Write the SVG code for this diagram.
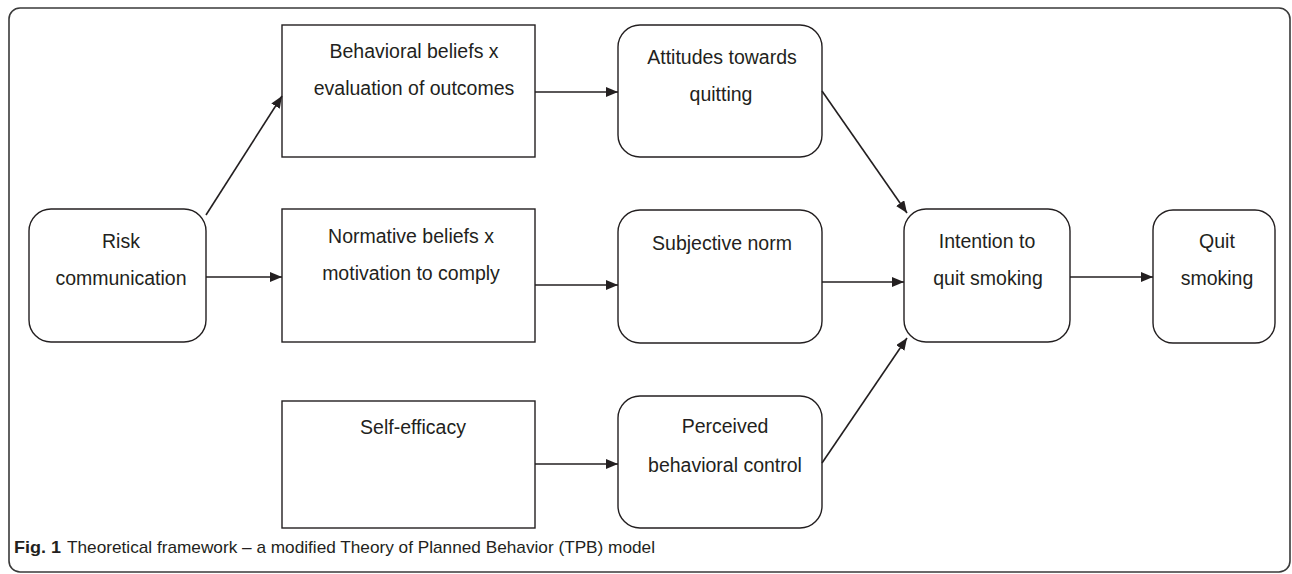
<svg xmlns="http://www.w3.org/2000/svg" width="1292" height="574" viewBox="0 0 1292 574">
<style>
.box{fill:#fff;stroke:#231f20;stroke-width:1.4}
.lbl{font-family:"Liberation Sans",Arial,sans-serif;font-size:19.5px;fill:#231f20;text-anchor:middle}
.con{stroke:#231f20;stroke-width:1.6;fill:none;marker-end:url(#ah)}
.cap{font-family:"Liberation Sans",Arial,sans-serif;font-size:17px;fill:#231f20}
</style>
<defs>
<marker id="ah" viewBox="0 0 12 10" refX="12" refY="5" markerWidth="12" markerHeight="10" markerUnits="userSpaceOnUse" orient="auto">
<path d="M0,0 L12,5 L0,10 z" fill="#231f20"/>
</marker>
</defs>
<rect x="9" y="8" width="1281" height="564" rx="11" fill="#fff" stroke="#3a3a3a" stroke-width="1.6"/>
<g id="risk">
<rect class="box" x="29" y="209" width="177" height="133" rx="22"/>
<text class="lbl" x="121" y="248">Risk</text>
<text class="lbl" x="121" y="285">communication</text>
</g>
<g id="behavioral">
<rect class="box" x="282" y="25" width="253" height="132"/>
<text class="lbl" x="414" y="58">Behavioral beliefs x</text>
<text class="lbl" x="414" y="95">evaluation of outcomes</text>
</g>
<g id="normative">
<rect class="box" x="282" y="209" width="253" height="133"/>
<text class="lbl" x="411" y="243">Normative beliefs x</text>
<text class="lbl" x="411" y="280">motivation to comply</text>
</g>
<g id="selfefficacy">
<rect class="box" x="282" y="401" width="253" height="127"/>
<text class="lbl" x="413" y="434">Self-efficacy</text>
</g>
<g id="attitudes">
<rect class="box" x="618" y="25" width="204" height="132" rx="22"/>
<text class="lbl" x="722" y="64">Attitudes towards</text>
<text class="lbl" x="721" y="101">quitting</text>
</g>
<g id="subjective">
<rect class="box" x="618" y="210" width="204" height="133" rx="22"/>
<text class="lbl" x="722" y="250">Subjective norm</text>
</g>
<g id="perceived">
<rect class="box" x="618" y="396" width="204" height="132" rx="22"/>
<text class="lbl" x="725" y="433">Perceived</text>
<text class="lbl" x="725" y="472">behavioral control</text>
</g>
<g id="intention">
<rect class="box" x="904" y="209" width="166" height="133" rx="22"/>
<text class="lbl" x="987" y="248">Intention to</text>
<text class="lbl" x="988" y="285">quit smoking</text>
</g>
<g id="quit">
<rect class="box" x="1153" y="210" width="122" height="133" rx="20"/>
<text class="lbl" x="1217" y="248">Quit</text>
<text class="lbl" x="1217" y="285">smoking</text>
</g>
<g id="connectors">
<line class="con" x1="206" y1="215" x2="282" y2="96"/>
<line class="con" x1="206" y1="277" x2="282" y2="277"/>
<line class="con" x1="535" y1="92" x2="618" y2="92"/>
<line class="con" x1="535" y1="285" x2="618" y2="285"/>
<line class="con" x1="535" y1="464" x2="618" y2="464"/>
<line class="con" x1="822" y1="91" x2="907" y2="213"/>
<line class="con" x1="822" y1="282" x2="904" y2="282"/>
<line class="con" x1="822" y1="463" x2="907" y2="338"/>
<line class="con" x1="1070" y1="277" x2="1153" y2="277"/>
</g>
<text class="cap" x="14" y="553" font-weight="bold" textLength="47" lengthAdjust="spacingAndGlyphs">Fig. 1</text>
<text class="cap" x="67" y="553" textLength="588" lengthAdjust="spacingAndGlyphs">Theoretical framework – a modified Theory of Planned Behavior (TPB) model</text>
</svg>
